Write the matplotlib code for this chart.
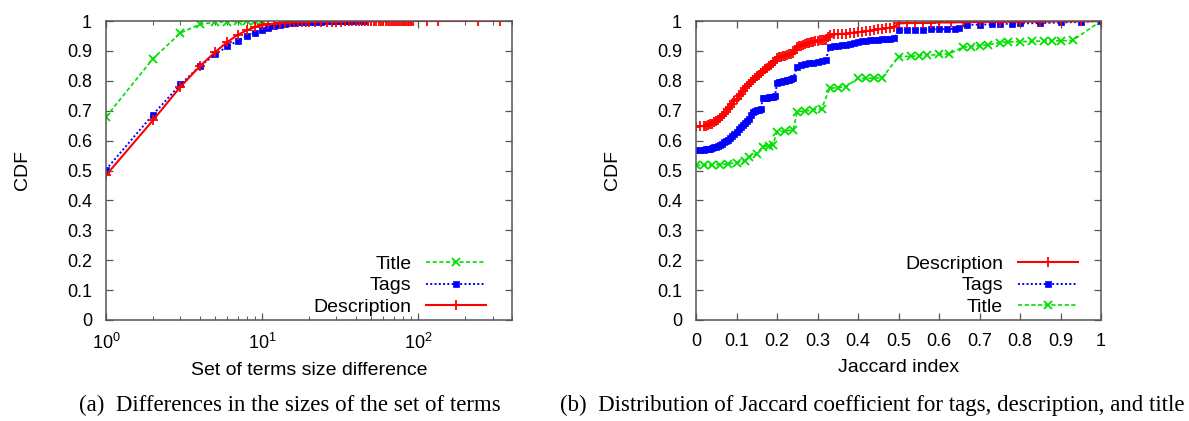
import matplotlib
matplotlib.use('Agg')
import matplotlib.pyplot as plt
from matplotlib.ticker import MultipleLocator, LogLocator, NullFormatter

plt.rcParams['font.family'] = ['Liberation Sans', 'DejaVu Sans']
plt.rcParams['mathtext.default'] = 'regular'

y_ticks = [0, 0.1, 0.2, 0.3, 0.4, 0.5, 0.6, 0.7, 0.8, 0.9, 1.0]
y_tick_labels = ['0', '0.1', '0.2', '0.3', '0.4', '0.5', '0.6', '0.7', '0.8', '0.9', '1']
jac_ticks = [0, 0.1, 0.2, 0.3, 0.4, 0.5, 0.6, 0.7, 0.8, 0.9, 1.0]
jac_tick_labels = ['0', '0.1', '0.2', '0.3', '0.4', '0.5', '0.6', '0.7', '0.8', '0.9', '1']

# (a) differences in the sizes of the set of terms
size_title_x = [1, 2, 3, 4, 5, 6, 7, 8, 9, 10]
size_title_y = [0.679, 0.874, 0.960, 0.989, 0.996, 0.998, 0.999, 0.999, 1.0, 1.0]

size_tags_x = [1, 2, 3, 4, 5, 6, 7, 8, 9, 10, 11, 12, 13, 14, 15, 16, 17, 18, 19, 20,
               22, 24, 26, 28, 30, 32, 34, 36, 38, 40, 43, 46]
size_tags_y = [0.503, 0.687, 0.788, 0.849, 0.888, 0.915, 0.934, 0.951, 0.961, 0.971,
               0.977, 0.982, 0.986, 0.989, 0.992, 0.994, 0.995, 0.996, 0.997, 0.998,
               0.998, 0.998, 0.999, 0.999, 0.999, 0.999, 0.999, 1.0, 1.0, 1.0, 1.0, 1.0]

size_desc_x = [1, 2, 3, 4, 5, 6, 7, 8, 9, 10, 11, 12, 13, 14, 15, 16, 17, 18, 19, 20,
               22, 24, 26, 28, 30, 32, 34, 36, 38, 40, 42, 44, 46, 48, 50, 52, 54, 56,
               58, 60, 62, 64, 66, 68, 70, 72, 74, 76, 78, 80, 82, 84, 86, 88, 90, 93,
               114, 134, 242, 336]
size_desc_y = [0.484, 0.668, 0.780, 0.849, 0.896, 0.930, 0.954, 0.969, 0.980, 0.986,
               0.989, 0.991, 0.993, 0.994, 0.995, 0.996, 0.996, 0.997, 0.997, 0.997,
               0.998, 0.998, 0.998, 0.998, 0.998, 0.998, 0.999, 0.999, 0.999, 0.999,
               0.999, 0.999, 0.999, 0.999, 0.999, 0.999, 0.999, 0.999, 0.999, 0.999,
               0.999, 0.999, 1.0, 1.0, 1.0, 1.0, 1.0, 1.0, 1.0, 1.0, 1.0, 1.0, 1.0,
               1.0, 1.0, 1.0, 1.0, 1.0, 1.0, 1.0]

# (b) Jaccard coefficient
jac_desc_x = [0, 0.01, 0.02, 0.025, 0.03, 0.035, 0.04, 0.045,
              0.05, 0.055, 0.06, 0.065, 0.07, 0.075, 0.08, 0.085, 0.09, 0.095,
              0.10, 0.105, 0.11, 0.115, 0.12, 0.125, 0.13, 0.135, 0.14, 0.145,
              0.15, 0.155, 0.16, 0.165, 0.17, 0.175, 0.18, 0.185, 0.19, 0.195,
              0.20, 0.205, 0.21, 0.215, 0.22, 0.225, 0.23, 0.235, 0.24, 0.245,
              0.25, 0.255, 0.26, 0.265, 0.27, 0.275, 0.28, 0.285, 0.29, 0.295,
              0.30, 0.305, 0.31, 0.315, 0.32, 0.325, 0.33,
              0.34, 0.35, 0.36, 0.37, 0.38, 0.39, 0.40, 0.41, 0.42, 0.43, 0.44,
              0.45, 0.46, 0.47, 0.48, 0.49, 0.50, 0.52, 0.54, 0.56, 0.58, 0.60,
              0.63, 0.66, 0.70, 0.75, 0.80, 0.85, 0.90, 0.95, 1.0]
jac_desc_y = [0.647, 0.648, 0.649, 0.650, 0.652, 0.654, 0.657, 0.661,
              0.665, 0.670, 0.676, 0.683, 0.690, 0.697, 0.705, 0.713, 0.722, 0.731,
              0.740, 0.748, 0.757, 0.766, 0.775, 0.782, 0.790, 0.797, 0.803, 0.809,
              0.815, 0.820, 0.825, 0.832, 0.838, 0.844, 0.850, 0.854, 0.858, 0.866,
              0.875, 0.878, 0.880, 0.882, 0.884, 0.886, 0.888, 0.890, 0.892, 0.902,
              0.912, 0.915, 0.918, 0.920, 0.922, 0.925, 0.928, 0.930, 0.931, 0.933,
              0.934, 0.935, 0.936, 0.937, 0.938, 0.945, 0.953,
              0.955, 0.956, 0.957, 0.958, 0.960, 0.961, 0.963, 0.964, 0.966, 0.968,
              0.970, 0.972, 0.974, 0.976, 0.978, 0.981, 0.992, 0.993, 0.993, 0.994,
              0.994, 0.995, 0.995, 0.996, 0.997, 0.997, 0.998, 0.998, 0.999, 0.999, 1.0]

jac_tags_x = [0, 0.01, 0.02, 0.025, 0.03, 0.035, 0.04, 0.045,
              0.05, 0.055, 0.06, 0.065, 0.07, 0.075, 0.08, 0.085, 0.09, 0.095,
              0.10, 0.105, 0.11, 0.115, 0.12, 0.125, 0.13, 0.135, 0.14, 0.145,
              0.15, 0.155, 0.16, 0.165, 0.17, 0.175, 0.18, 0.185, 0.19, 0.195,
              0.20, 0.205, 0.21, 0.215, 0.22, 0.225, 0.23, 0.235, 0.24,
              0.25, 0.26, 0.27, 0.28, 0.29, 0.30, 0.31, 0.32,
              0.33, 0.34, 0.35, 0.36, 0.37, 0.38, 0.39, 0.40, 0.41, 0.42, 0.43,
              0.44, 0.45, 0.46, 0.47, 0.48, 0.49, 0.50, 0.52, 0.54, 0.56, 0.58,
              0.60, 0.62, 0.64, 0.65, 0.67, 0.70, 0.73, 0.75, 0.78, 0.80, 0.85,
              0.90, 0.95, 1.0]
jac_tags_y = [0.569, 0.569, 0.570, 0.571, 0.572, 0.573, 0.575, 0.577,
              0.580, 0.583, 0.586, 0.590, 0.594, 0.598, 0.602, 0.608, 0.615, 0.622,
              0.630, 0.638, 0.647, 0.653, 0.660, 0.666, 0.672, 0.684, 0.695, 0.699,
              0.702, 0.704, 0.705, 0.741, 0.743, 0.744, 0.745, 0.746, 0.747, 0.748,
              0.792, 0.795, 0.797, 0.799, 0.800, 0.802, 0.804, 0.806, 0.808,
              0.847, 0.852, 0.855, 0.858, 0.861, 0.864, 0.867, 0.870,
              0.914, 0.916, 0.918, 0.920, 0.921, 0.923, 0.925, 0.931, 0.932, 0.934,
              0.935, 0.937, 0.938, 0.939, 0.940, 0.941, 0.942, 0.970, 0.970, 0.971,
              0.971, 0.972, 0.972, 0.973, 0.974, 0.975, 0.987, 0.988, 0.989, 0.990,
              0.991, 0.992, 0.993, 0.995, 0.997, 1.0]

jac_title_x = [0, 0.02, 0.04, 0.06, 0.08, 0.10, 0.12, 0.13, 0.15, 0.165, 0.18, 0.19,
               0.20, 0.22, 0.24, 0.25, 0.27, 0.29, 0.31, 0.33, 0.35, 0.37, 0.40, 0.42,
               0.44, 0.46, 0.50, 0.53, 0.55, 0.57, 0.60, 0.625, 0.66, 0.68, 0.70, 0.72,
               0.75, 0.77, 0.80, 0.83, 0.86, 0.88, 0.90, 0.93, 1.0]
jac_title_y = [0.518, 0.518, 0.519, 0.520, 0.522, 0.526, 0.533, 0.545, 0.555, 0.580,
               0.583, 0.586, 0.630, 0.632, 0.636, 0.697, 0.699, 0.703, 0.706, 0.775,
               0.777, 0.780, 0.808, 0.808, 0.809, 0.810, 0.881, 0.882, 0.884, 0.885,
               0.888, 0.890, 0.913, 0.914, 0.918, 0.920, 0.928, 0.930, 0.931, 0.932,
               0.933, 0.934, 0.934, 0.935, 1.0]

GREEN = '#00e000'
BLUE = '#0000ff'
RED = '#ff0000'
green_kw = dict(color=GREEN, ls=(0, (2.5, 1.5)), lw=1.2, marker='x', ms=6, mew=1.3)
blue_kw = dict(color=BLUE, ls=(0, (1, 1.2)), lw=1.4, marker='s', ms=5, mew=0.5)
red_kw = dict(color=RED, ls='-', lw=1.5, marker='+', ms=7, mew=1.3)

fig = plt.figure(figsize=(11.89, 4.21), dpi=100)
ax1 = fig.add_axes([106 / 1189, 101 / 421, 406 / 1189, 299 / 421])
ax2 = fig.add_axes([696 / 1189, 101 / 421, 405 / 1189, 299 / 421])

for ax in [ax1, ax2]:
    for sp in ax.spines.values():
        sp.set_color('#555555')
        sp.set_linewidth(1.1)
    ax.tick_params(direction='in', top=True, right=True, length=5, width=0.9,
                   color='#555555', labelsize=13)
    ax.tick_params(axis='y', pad=10)
    ax.tick_params(axis='x', pad=9)
    ax.set_ylim(0, 1)
    ax.set_yticks(y_ticks, y_tick_labels)
    ax.set_ylabel('CDF', fontsize=14)
    ax.yaxis.set_label_coords(-0.185, 0.5)

# (a)
ax1.set_xscale('log')
ax1.set_xlim(1, 400)
ax1.xaxis.set_major_locator(LogLocator(base=10))
ax1.xaxis.set_minor_locator(LogLocator(base=10, subs=range(2, 10)))
ax1.xaxis.set_minor_formatter(NullFormatter())
ax1.tick_params(which='minor', direction='in', top=True, length=3, width=0.7, color='#555555')
ax1.plot(size_title_x, size_title_y, label='Title', **green_kw)
ax1.plot(size_tags_x, size_tags_y, label='Tags', **blue_kw)
ax1.plot(size_desc_x, size_desc_y, label='Description', **red_kw)
ax1.set_xlabel('Set of terms size difference', fontsize=14, labelpad=7)
ax1.legend(loc='lower right', bbox_to_anchor=(0.937, 0.015), markerfirst=False,
           frameon=False, fontsize=14, handlelength=3.1, handletextpad=0.75,
           labelspacing=0.18, borderpad=0, borderaxespad=0, numpoints=1)

# (b)
ax2.set_xlim(0, 1)
ax2.set_xticks(jac_ticks, jac_tick_labels)
ax2.plot(jac_title_x, jac_title_y, label='Title', **green_kw)
ax2.plot(jac_tags_x, jac_tags_y, label='Tags', **blue_kw)
ax2.plot(jac_desc_x, jac_desc_y, label='Description', **red_kw)
h, l = ax2.get_legend_handles_labels()
ax2.set_xlabel('Jaccard index', fontsize=14, labelpad=7)
ax2.legend(h[::-1], l[::-1], loc='lower right', bbox_to_anchor=(0.943, 0.015),
           markerfirst=False, frameon=False, fontsize=14, handlelength=3.1,
           handletextpad=0.75, labelspacing=0.18, borderpad=0, borderaxespad=0,
           numpoints=1)

fig.text(290 / 1189, 1 - 405 / 421, '(a)  Differences in the sizes of the set of terms',
         family=['Liberation Serif'], fontsize=16.5, ha='center', va='center')
fig.text(872 / 1189, 1 - 405 / 421,
         '(b)  Distribution of Jaccard coefficient for tags, description, and title',
         family=['Liberation Serif'], fontsize=16.5, ha='center', va='center')

fig.savefig('out.png', dpi=100)
